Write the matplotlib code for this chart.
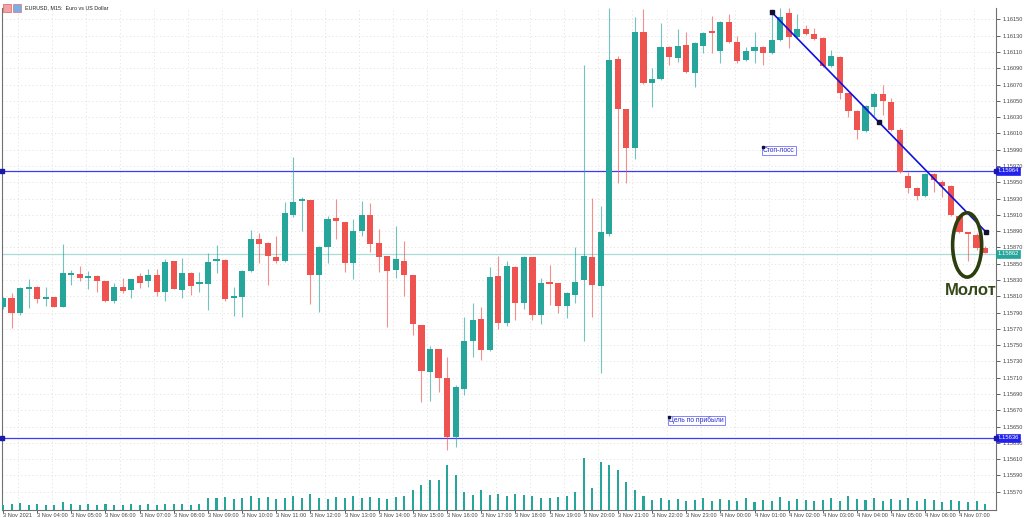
import numpy as np
import matplotlib
matplotlib.use('Agg')
import matplotlib.pyplot as plt
import matplotlib.transforms as mtransforms
from matplotlib.patches import Ellipse, Rectangle

plt.rcParams['font.family'] = ['Liberation Sans', 'DejaVu Sans']

BULL = '#26a69a'
BEAR = '#ef5350'
LINE_BLUE = '#3a3aff'

# EURUSD M15, 3 Nov 2021 03:00 .. 4 Nov 2021 07:45
opens = [1.15797, 1.15808, 1.15789, 1.15819, 1.15821, 1.15807, 1.15809, 1.15797, 1.15836, 1.15837,
         1.15832, 1.15835, 1.15829, 1.15804, 1.15821, 1.15818, 1.15835, 1.15829, 1.15836, 1.15815,
         1.15853, 1.15818, 1.15839, 1.15825, 1.15825, 1.15853, 1.15855, 1.15808, 1.15809, 1.15841,
         1.15880, 1.15875, 1.15858, 1.15853, 1.15910, 1.15927, 1.15928, 1.15836, 1.15871, 1.15906,
         1.15901, 1.15851, 1.15890, 1.15910, 1.15875, 1.15859, 1.15842, 1.15853, 1.15836, 1.15775,
         1.15717, 1.15745, 1.15710, 1.15637, 1.15696, 1.15755, 1.15782, 1.15744, 1.15835, 1.15777,
         1.15846, 1.15802, 1.15858, 1.15787, 1.15828, 1.15826, 1.15798, 1.15812, 1.15830, 1.15858,
         1.15823, 1.15886, 1.16101, 1.16040, 1.15992, 1.16135, 1.16072, 1.16077, 1.16116, 1.16103,
         1.16119, 1.16084, 1.16117, 1.16136, 1.16111, 1.16147, 1.16122, 1.16100, 1.16111, 1.16116,
         1.16109, 1.16125, 1.16158, 1.16128, 1.16138, 1.16132, 1.16127, 1.16093, 1.16104, 1.16060,
         1.16038, 1.16013, 1.16043, 1.16058, 1.16049, 1.16014, 1.15958, 1.15943, 1.15933, 1.15960,
         1.15950, 1.15945, 1.15909, 1.15888, 1.15885, 1.15869]
closes = [1.15808, 1.15789, 1.15820, 1.15820, 1.15807, 1.15808, 1.15797, 1.15839, 1.15839, 1.15832,
          1.15834, 1.15829, 1.15804, 1.15821, 1.15816, 1.15831, 1.15826, 1.15836, 1.15815, 1.15852,
          1.15819, 1.15839, 1.15823, 1.15826, 1.15852, 1.15855, 1.15807, 1.15810, 1.15841, 1.15880,
          1.15874, 1.15859, 1.15853, 1.15912, 1.15926, 1.15928, 1.15836, 1.15871, 1.15905, 1.15902,
          1.15851, 1.15890, 1.15910, 1.15874, 1.15858, 1.15841, 1.15856, 1.15836, 1.15776, 1.15718,
          1.15745, 1.15710, 1.15637, 1.15699, 1.15755, 1.15781, 1.15744, 1.15834, 1.15777, 1.15847,
          1.15802, 1.15858, 1.15787, 1.15826, 1.15825, 1.15798, 1.15814, 1.15828, 1.15859, 1.15824,
          1.15889, 1.16100, 1.16040, 1.15992, 1.16135, 1.16072, 1.16077, 1.16116, 1.16104, 1.16117,
          1.16085, 1.16121, 1.16133, 1.16133, 1.16147, 1.16122, 1.16099, 1.16111, 1.16116, 1.16109,
          1.16125, 1.16153, 1.16128, 1.16138, 1.16132, 1.16126, 1.16093, 1.16105, 1.16060, 1.16038,
          1.16014, 1.16044, 1.16058, 1.16050, 1.16014, 1.15963, 1.15943, 1.15933, 1.15960, 1.15953,
          1.15945, 1.15910, 1.15889, 1.15886, 1.15869, 1.15863]
highs = [1.15809, 1.15814, 1.15821, 1.15831, 1.15823, 1.15821, 1.15809, 1.15874, 1.15842, 1.15847,
         1.15841, 1.15836, 1.15829, 1.15826, 1.15832, 1.15831, 1.15839, 1.15843, 1.15843, 1.15856,
         1.15853, 1.15857, 1.15840, 1.15840, 1.15863, 1.15873, 1.15856, 1.15821, 1.15842, 1.15891,
         1.15888, 1.15877, 1.15884, 1.15926, 1.15981, 1.15932, 1.15928, 1.15872, 1.15909, 1.15929,
         1.15901, 1.15905, 1.15927, 1.15925, 1.15893, 1.15859, 1.15896, 1.15878, 1.15836, 1.15775,
         1.15749, 1.15745, 1.15735, 1.15701, 1.15785, 1.15802, 1.15797, 1.15846, 1.15859, 1.15853,
         1.15847, 1.15859, 1.15858, 1.15832, 1.15848, 1.15826, 1.15815, 1.15871, 1.16094, 1.15931,
         1.15921, 1.16164, 1.16105, 1.16040, 1.16153, 1.16163, 1.16090, 1.16146, 1.16117, 1.16138,
         1.16135, 1.16122, 1.16135, 1.16154, 1.16148, 1.16157, 1.16130, 1.16116, 1.16135, 1.16117,
         1.16158, 1.16164, 1.16164, 1.16157, 1.16143, 1.16140, 1.16128, 1.16113, 1.16105, 1.16060,
         1.16039, 1.16045, 1.16061, 1.16070, 1.16054, 1.16017, 1.15963, 1.15944, 1.15961, 1.15961,
         1.15953, 1.15947, 1.15910, 1.15888, 1.15888, 1.15872]
lows = [1.15794, 1.15771, 1.15787, 1.15796, 1.15802, 1.15798, 1.15797, 1.15797, 1.15824, 1.15829,
        1.15819, 1.15815, 1.15803, 1.15802, 1.15814, 1.15808, 1.15820, 1.15821, 1.15810, 1.15804,
        1.15819, 1.15808, 1.15812, 1.15815, 1.15793, 1.15839, 1.15804, 1.15786, 1.15785, 1.15840,
        1.15851, 1.15824, 1.15851, 1.15852, 1.15907, 1.15890, 1.15800, 1.15791, 1.15851, 1.15880,
        1.15840, 1.15831, 1.15884, 1.15864, 1.15840, 1.15772, 1.15832, 1.15810, 1.15762, 1.15680,
        1.15681, 1.15692, 1.15621, 1.15625, 1.15689, 1.15735, 1.15732, 1.15743, 1.15770, 1.15773,
        1.15781, 1.15794, 1.15781, 1.15776, 1.15799, 1.15789, 1.15783, 1.15802, 1.15755, 1.15785,
        1.15716, 1.15884, 1.15949, 1.15949, 1.15979, 1.16071, 1.16043, 1.16076, 1.16094, 1.16098,
        1.16084, 1.16067, 1.16109, 1.16109, 1.16097, 1.16121, 1.16097, 1.16099, 1.16097, 1.16094,
        1.16108, 1.16124, 1.16115, 1.16127, 1.16131, 1.16125, 1.16092, 1.16092, 1.16052, 1.16030,
        1.16003, 1.16012, 1.16031, 1.16033, 1.16013, 1.15961, 1.15937, 1.15928, 1.15932, 1.15938,
        1.15932, 1.15909, 1.15888, 1.15853, 1.15867, 1.15863]
# tick volumes
volumes = [200, 240, 280, 200, 240, 200, 200, 320, 240, 200, 240, 200, 240, 200, 200, 240, 200, 240, 200, 240,
           240, 240, 200, 240, 480, 480, 520, 440, 480, 560, 480, 520, 440, 480, 560, 480, 640, 480, 440, 520,
           480, 560, 480, 520, 480, 440, 520, 560, 800, 1000, 1200, 1200, 1800, 1400, 720, 600, 800, 600, 640, 560,
           640, 600, 560, 480, 480, 520, 560, 720, 2080, 880, 1920, 1800, 1600, 1120, 800, 560, 400, 480, 400, 440,
           360, 400, 480, 360, 440, 400, 360, 480, 320, 400, 360, 520, 360, 440, 400, 360, 400, 480, 360, 560,
           440, 400, 480, 360, 440, 400, 480, 360, 440, 400, 320, 400, 360, 320, 360, 240]

tick_labels = (['3 Nov 2021'] + ['3 Nov %02d:00' % h for h in range(4, 24)]
               + ['4 Nov %02d:00' % h for h in range(0, 8)])
price_ticks = np.arange(1.15570, 1.16151, 0.0002)

stop_loss = 1.15964
take_profit = 1.15636
bid = 1.15862
trend_x = [90, 102.55, 115.1]
trend_y = [1.16159, 1.16024, 1.15889]
sl_text_pos = (89, 1.15993)
tp_text_pos = (78, 1.15662)
hammer_center = (112.9, 1.15873)

W, H = 1024, 518
fig = plt.figure(figsize=(W / 100, H / 100), dpi=100)
fig.patch.set_facecolor('white')
ax = fig.add_axes([2 / W, 8 / H, 994 / W, 502 / H])

idx = np.arange(len(opens))
o = np.array(opens)
c = np.array(closes)
hi = np.array(highs)
lo = np.array(lows)
colors = np.where(c >= o, BULL, BEAR)

# volumes on their own scale at the bottom
axv = ax.twinx()
axv.bar(idx, volumes, width=0.24, color=BULL, zorder=1)
axv.set_ylim(0, 20080)
axv.set_yticks([])
for s in axv.spines.values():
    s.set_visible(False)

ax.vlines(idx, lo, hi, colors=colors, linewidth=0.8, alpha=0.65, zorder=3)
body = np.maximum(np.abs(c - o), 0.000025)
ax.bar(idx, body, bottom=np.minimum(o, c), width=0.72, color=colors, linewidth=0, zorder=4)

ax.set_xlim(-0.12, 116.28)
ax.set_ylim(1.155475, 1.16164)

# grid
for p in price_ticks:
    ax.axhline(p, color='#e2e2e2', lw=0.6, ls=(0, (1.5, 3)), zorder=0)
for gx in np.arange(1.7, 116, 4):
    ax.axvline(gx, color='#e2e2e2', lw=0.6, ls=(0, (1.5, 3)), zorder=0)

ax.yaxis.tick_right()
ax.set_yticks(price_ticks)
ax.set_yticklabels(['%.5f' % p for p in price_ticks])
ax.tick_params(axis='y', length=3, width=0.6, pad=1.5, labelsize=4.1, colors='#444444')
ax.set_xticks(np.arange(0, 116, 4))
ax.set_xticklabels(tick_labels, ha='left')
ax.tick_params(axis='x', length=2, width=0.6, pad=0.5, labelsize=4.1, colors='#444444')
ax.spines['top'].set_visible(False)
for s in ['left', 'right', 'bottom']:
    ax.spines[s].set_color('#707070')
    ax.spines[s].set_linewidth(0.8)

# horizontal levels
yb = mtransforms.blended_transform_factory(ax.transAxes, ax.transData)
for lvl, col, lc in [(stop_loss, '#2222ee', LINE_BLUE), (take_profit, '#2222ee', LINE_BLUE),
                     (bid, BULL, '#a8dcd5')]:
    ax.axhline(lvl, color=lc, lw=0.9, zorder=2)
    ax.text(1.0015, lvl, '%.5f' % lvl, transform=yb, ha='left', va='center', fontsize=4.2,
            color='white', clip_on=False, zorder=10,
            bbox=dict(boxstyle='square,pad=0.25', fc=col, ec=col, lw=0.5))
for lvl in [stop_loss, take_profit]:
    ax.plot([0, 1], [lvl, lvl], 's', color='#1a1aaa', ms=2.2, transform=yb, clip_on=False, zorder=11)

# trend line
ax.plot([trend_x[0], trend_x[-1]], [trend_y[0], trend_y[-1]], color='#1010e0', lw=1.2, zorder=6)
ax.plot(trend_x, trend_y, 's', color='#111133', ms=2.3, zorder=7)

# text labels
for pos, txt in [(sl_text_pos, 'Стоп-лосс'), (tp_text_pos, 'Цель по прибыли')]:
    ax.text(pos[0], pos[1], txt, ha='left', va='top', fontsize=4.8, color='#2a2acc', zorder=8,
            bbox=dict(boxstyle='square,pad=0.15', fc='none', ec='#7070ff', lw=0.6))
    ax.plot([pos[0]], [pos[1]], 's', color='#111133', ms=2, zorder=9)

# hammer
ax.add_patch(Ellipse(hammer_center, 3.4, 0.00079, fill=False, ec='#2c3d0e', lw=2.6, zorder=9))
ax.text(113.3, 1.15817, 'Молот', ha='center', va='center', fontsize=12, fontweight='bold',
        family=['Liberation Sans Narrow', 'Liberation Sans', 'DejaVu Sans'],
        color='#36471a', zorder=9)

# title
fig.patches.append(Rectangle((3 / W, 1 - 12 / H), 8 / W, 8 / H, transform=fig.transFigure,
                             fc='#f3a3a3', ec='#d06060', lw=0.5))
fig.patches.append(Rectangle((13 / W, 1 - 12 / H), 8 / W, 8 / H, transform=fig.transFigure,
                             fc='#7aaee6', ec='#e07070', lw=0.5))
fig.text(25 / W, 1 - 7.5 / H, 'EURUSD, M15:  Euro vs US Dollar', fontsize=3.9, color='#222222',
         va='center', ha='left')

fig.savefig('out.png', dpi=100, facecolor='white')
